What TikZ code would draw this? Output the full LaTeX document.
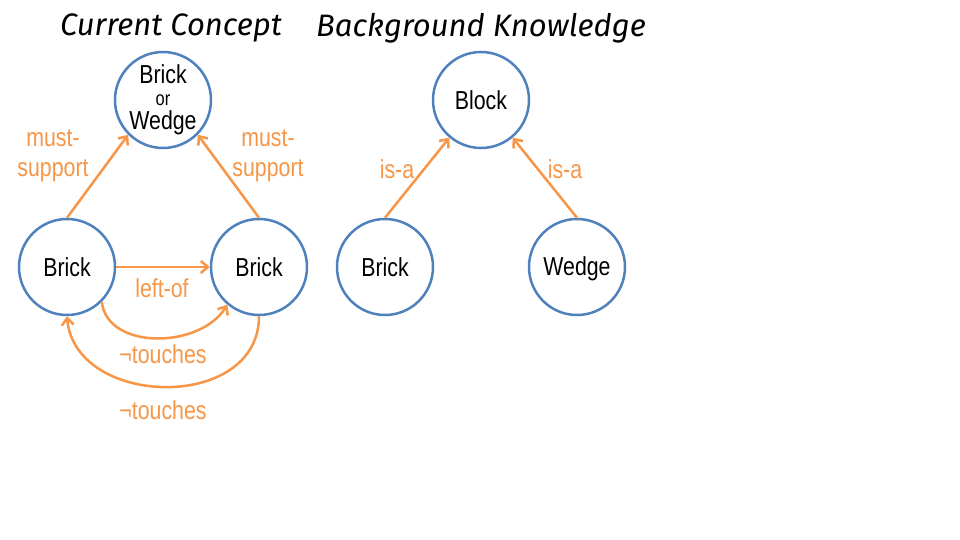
\documentclass[tikz,border=0pt]{standalone}
\usepackage{fontspec}
\setmainfont{Liberation Sans}[FakeStretch=0.82]
\newfontfamily\titlefont{Fira Sans}
\usetikzlibrary{arrows.meta}
\definecolor{cblue}{RGB}{79,129,189}
\definecolor{corange}{RGB}{247,150,70}
\tikzset{
  concept/.style={circle, draw=cblue, line width=2.5pt, minimum size=96pt, inner sep=0pt, align=center, font=\fontsize{26}{28}\selectfont},
  rel/.style={draw=corange, line width=2.5pt, -{Straight Barb[length=7pt,width=12pt]}},
  rellabel/.style={text=corange, font=\fontsize{26}{30}\selectfont, align=center, inner sep=0pt},
  titletext/.style={font=\titlefont\itshape\fontsize{31}{33}\selectfont, inner sep=0pt}
}
\begin{document}
\begin{tikzpicture}[x=1pt,y=-1pt]
\useasboundingbox[fill=white] (0,0) rectangle (960,540);
\node[titletext] (t1) at (171,28) {Current Concept};
\node[titletext] (t2) at (481,28) {Background Knowledge};

\node[concept] (top) at (163,100) {};
\node[font=\fontsize{26}{28}\selectfont, inner sep=0pt] (topa) at (163,74) {Brick};
\node[font=\fontsize{20}{22}\selectfont, inner sep=0pt] (topb) at (163,100) {or};
\node[font=\fontsize{26}{28}\selectfont, inner sep=0pt] (topc) at (163,123) {Wedge};
\node[concept] (lb) at (67,267) {Brick};
\node[concept] (rb) at (259,267) {Brick};

\node[concept] (blk) at (481,100) {Block};
\node[concept] (bb) at (385,267) {Brick};
\node[concept, text depth=2pt] (bw) at (577,267) {Wedge};

\draw[rel] (lb.north) -- (top.-135);
\draw[rel] (rb.north) -- (top.-45);
\draw[rel] (lb.east) -- (rb.west);
\draw[rel] (lb.-45) .. controls +(5,48) and +(-28,45) .. (rb.-130);
\draw[rel] (rb.south) .. controls +(0,96) and +(8,92) .. (lb.south);
\draw[rel] (bb.north) -- (blk.-130);
\draw[rel] (bw.north) -- (blk.-50);

\node[rellabel] (l1) at (53,156) {must-\\support};
\node[rellabel] (l2) at (268,156) {must-\\support};
\node[rellabel] (l3) at (162,288) {left-of};
\node[rellabel] (l4) at (163,354) {¬touches};
\node[rellabel] (l5) at (163,410) {¬touches};
\node[rellabel] (l6) at (397,169) {is-a};
\node[rellabel] (l7) at (565,169) {is-a};
\end{tikzpicture}
\end{document}
